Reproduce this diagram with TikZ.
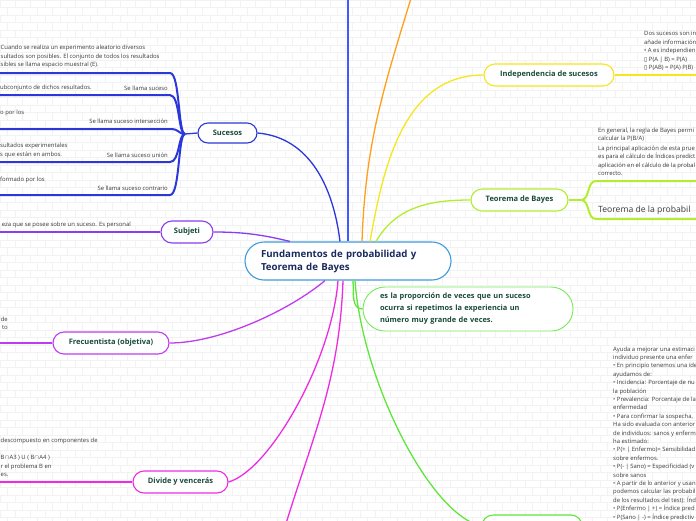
\documentclass[tikz,border=0pt]{standalone}
\usepackage{fontspec}
\setmainfont{Open Sans}
\newfontfamily\dvsans{DejaVu Sans}

\definecolor{roottext}{HTML}{1B2A5C}
\definecolor{rootline}{HTML}{3E9BDB}
\definecolor{topictext}{HTML}{1A4A3A}
\definecolor{notetext}{HTML}{3A3A3A}
\definecolor{sucblue}{HTML}{2B37DA}
\definecolor{axisblue}{HTML}{3F5BFF}
\definecolor{orangeline}{HTML}{FF9F1C}
\definecolor{yellowline}{HTML}{F5E61E}
\definecolor{bayesgreen}{HTML}{B2EE2E}
\definecolor{propgreen}{HTML}{5FE63A}
\definecolor{magline}{HTML}{EE2BE2}
\definecolor{frecpurple}{HTML}{BE3CF0}
\definecolor{subjpurple}{HTML}{8A3CF0}

\tikzset{
  brick/.style={black!5, line width=0.5pt},
  link/.style={line width=1.3pt},
  bar/.style={line width=2pt},
  topic/.style={draw, line width=1.1pt, fill=white, rounded corners=11pt,
    minimum height=22pt, inner sep=0pt, text=topictext,
    font=\fontsize{7.5}{10}\selectfont\bfseries},
  note/.style={inner sep=0pt, text=notetext, align=left,
    font=\fontsize{5.9}{8.4}\selectfont},
}

\begin{document}
\begin{tikzpicture}[x=1pt, y=-1pt]
    \useasboundingbox (0,0) rectangle (696,520);
    % Background bricks
    \foreach \r in {0,...,69} {
        \draw[brick] (0,\r*7.5) -- (696,\r*7.5);
        \pgfmathsetmacro\off{mod(\r,2)*7.5}
        \foreach \c in {0,...,46}
            \draw[brick] (\off+\c*15,\r*7.5) -- ++(0,7.5);
    }

    % Central topic
    \node[topic, draw=rootline, rounded corners=19pt, minimum height=38pt,
          text width=174pt, align=left, inner xsep=16pt, text=roottext,
          font=\fontsize{9.7}{13}\selectfont\bfseries] (root) at (348,261)
          {Fundamentos de probabilidad y\\Teorema de Bayes};

    % Main topics
    \node[topic, draw=sucblue, minimum width=59pt, minimum height=20pt, rounded corners=10pt] (sucesos) at (227.5,133) {Sucesos};
    \node[topic, draw=subjpurple, minimum width=52pt] (subjeti) at (187,232) {Subjeti};
    \node[topic, draw=frecpurple, minimum width=116pt] (frec) at (111,343) {Frecuentista (objetiva)};
    \node[topic, draw=magline, minimum width=95pt] (divide) at (180.5,482) {Divide y vencerás};
    \node[topic, draw=yellowline, minimum width=130pt] (indep) at (549,75) {Independencia de sucesos};
    \node[topic, draw=bayesgreen, minimum width=97pt] (bayes) at (519.5,200) {Teorema de Bayes};
    \node[topic, draw=propgreen!85, line width=0.9pt, minimum height=44pt, rounded corners=22pt,
          text width=176pt, inner xsep=17pt, align=left,
          font=\fontsize{7.4}{12}\selectfont\bfseries] (prop) at (468,309)
          {es la proporción de veces que un suceso\\ocurra si repetimos la experiencia un\\número muy grande de veces.};
    \node[topic, draw=propgreen, minimum width=100pt] (total) at (532,526) {};

    % Free ends
    \coordinate (axisend) at (348,-5);
    \coordinate (orangeend) at (412,-5);
    \coordinate (magend) at (284,530);
    \coordinate (sucfork) at (185,134);
    \coordinate (indepbar) at (641,75);
    \coordinate (independ) at (700,75);
    \coordinate (bayesfork) at (582,200);

    % Connectors from the centre
    \draw[link, axisblue] (root.north) -- (axisend);
    \draw[link, sucblue] ([xshift=-8pt]root.north) to[out=97, in=-5] (sucesos.east);
    \draw[link, orangeline] ([xshift=14pt]root.north) to[out=88, in=-107] (orangeend);
    \draw[link, yellowline] ([xshift=22pt]root.north) to[out=80, in=180] (indep.west);
    \draw[link, bayesgreen] ([xshift=28pt]root.north) to[out=60, in=180] (bayes.west);
    \draw[link, subjpurple] ([xshift=-58pt]root.north) .. controls (260,234) and (240,232) .. (subjeti.east);
    \draw[link, frecpurple] ([xshift=-23pt]root.south) .. controls (290,310) and (220,343) .. (frec.east);
    \draw[link, magline] ([xshift=-10pt]root.south) .. controls (332,360) and (270,470) .. (divide.east);
    \draw[link, magline] ([xshift=-5pt]root.south) to[out=-92, in=73] (magend);
    \draw[link, propgreen] ([xshift=5pt]root.south) to[out=-85, in=180] (prop.west);
    \draw[link, propgreen] ([xshift=7pt]root.south) .. controls (362,380) and (430,515) .. (total.west);

    % Sucesos branch
    \draw[link, sucblue] (sucesos.west) -- (sucfork);
    \foreach \y in {73,95,129,162,195}
        \draw[bar, sucblue] (sucfork) .. controls (178,134) and (180,\y) .. (170,\y) -- (-5,\y);
    \node[note, anchor=west] (esp) at (0.5,56.5)
        {Cuando se realiza un experimento aleatorio diversos\\sultados son posibles. El conjunto de todos los resultados\\sibles se llama espacio muestral (E).};
    \node[note, anchor=west] (subc) at (0,88) {ubconjunto de dichos resultados.};
    \node[note, anchor=east] (suc) at (168,88) {Se llama suceso};
    \node[note, anchor=west] (porlos) at (0,113) {o por los};
    \node[note, anchor=east] (inter) at (168,121) {Se llama suceso intersección};
    \node[note, anchor=west] (ambos) at (0,150.5) {sultados experimentales\\s que están en ambos.};
    \node[note, anchor=east] (union) at (168,155) {Se llama suceso unión};
    \node[note, anchor=west] (formado) at (0,180) {formado por los};
    \node[note, anchor=east] (contr) at (168,188) {Se llama suceso contrario};

    % Subjeti branch
    \draw[bar, subjpurple] (subjeti.west) -- (-5,232);
    \node[note, anchor=east] (certeza) at (131,224.5) {eza que se posee sobre un suceso. Es personal};

    % Frecuentista branch
    \draw[bar, frecpurple] (frec.west) -- (-5,343);
    \node[note, anchor=east, align=right] (frectxt) at (8,323) {de\\to};

    % Divide branch
    \draw[bar, magline] (divide.west) -- (-5,482);
    \node[note, anchor=west] (divtxt) at (0.5,457.5)
        {descompuesto en componentes de\\[8.4pt]B$\cap$A3 ) U ( B$\cap$A4 )\\r el problema B en\\es.};

    % Independencia branch
    \draw[link, yellowline] (indep.east) -- (indepbar);
    \draw[bar, yellowline] (indepbar) -- (independ);
    \node[note, anchor=west] (indtxt) at (644,51)
        {Dos sucesos son in\\añade información\\• A es independien\\{\dvsans ▯} P(A | B) = P(A)\\{\dvsans ▯} P(AB) = P(A) P(B)};

    % Bayes branch
    \draw[link, bayesgreen] (bayes.east) -- (bayesfork);
    \draw[bar, bayesgreen] (bayesfork) .. controls (590,198) and (587,181) .. (596,181) -- (700,181);
    \draw[bar, bayesgreen] (bayesfork) .. controls (590,202) and (587,219) .. (596,219) -- (700,219);
    \node[note, anchor=west] (baytxt) at (598,151.5)
        {En general, la regla de Bayes permi\\calcular la P(B/A)\\[1.4pt]La principal aplicación de esta prue\\es para el cálculo de Índices predict\\aplicación en el cálculo de la probal\\correcto.};
    \node[note, anchor=west, font=\fontsize{8.6}{10}\selectfont] (totaltxt) at (598,210) {Teorema de la probabil};

    % Right text block
    \node[note, anchor=west] (testtxt) at (613,433.5)
        {Ayuda a mejorar una estimaci\\individuo presente una enfer\\• En principio tenemos una ide\\ayudamos de:\\• Incidencia: Porcentaje de nu\\la población\\• Prevalencia: Porcentaje de la\\enfermedad\\• Para confirmar la sospecha,\\Ha sido evaluada con anterior\\de individuos: sanos y enferm\\ha estimado:\\• P(+ | Enfermo)= Sensibilidad\\sobre enfermos.\\• P(- | Sano) = Especificidad (v\\sobre sanos\\• A partir de lo anterior y usan\\podemos calcular las probabil\\de los resultados del test): Índ\\• P(Enfermo | +) = Índice pred\\• P(Sano | -) = Índice predictiv};
\end{tikzpicture}
\end{document}
